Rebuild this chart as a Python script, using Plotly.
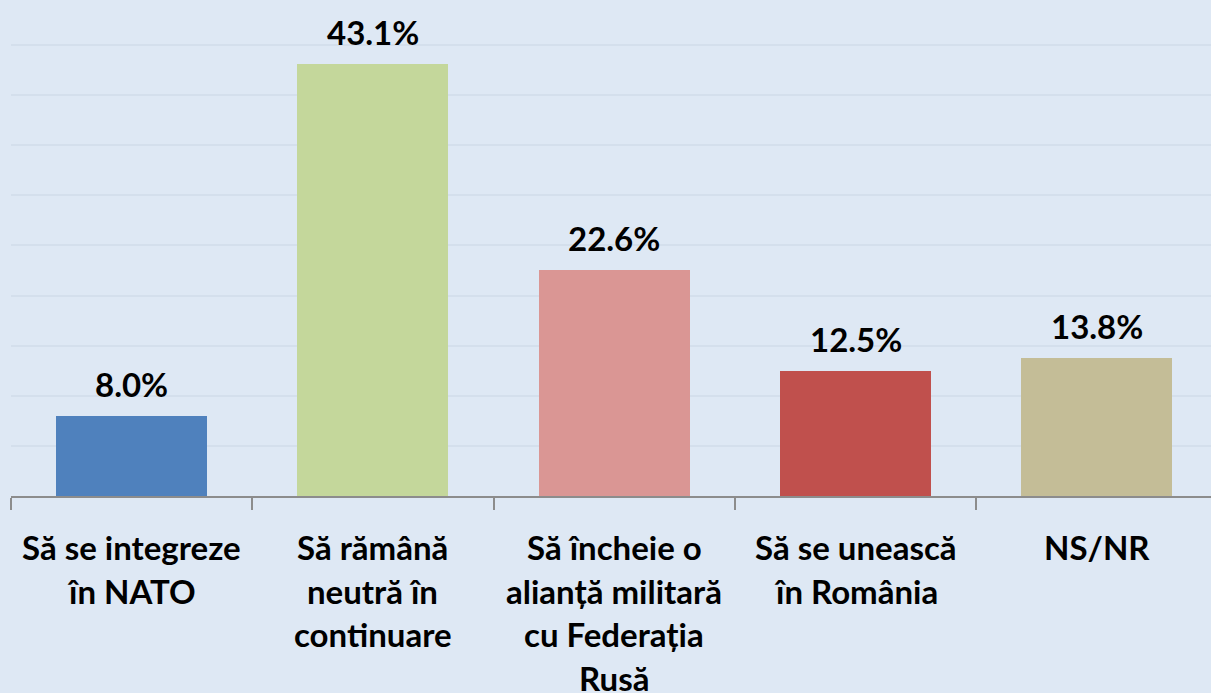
import plotly.graph_objects as go

categories = ["Să se integreze<br>în NATO", "Să rămână<br>neutră în<br>continuare",
              "Să încheie o<br>alianță militară<br>cu Federația<br>Rusă", "Să se unească<br>în România", "NS/NR"]
values = [8.0, 43.1, 22.6, 12.5, 13.8]
colors = ["#4F81BD", "#C4D79B", "#DA9694", "#C0504D", "#C4BD97"]
labels = [f"{v:.1f}%" for v in values]

FONT = "Lato"
FS = 33
fig = go.Figure(go.Bar(
    x=categories, y=values, marker=dict(color=colors, line=dict(width=0)),
    width=0.626, cliponaxis=False, hoverinfo="skip",
))

for c, v, t in zip(categories, values, labels):
    fig.add_annotation(x=c, y=v, xref="x", yref="y", text=t, showarrow=False,
                       yshift=32, yanchor="middle",
                       font=dict(family=FONT, size=FS, color="black", weight="bold"))
    for j, line in enumerate(c.split("<br>")):
        fig.add_annotation(x=c, y=0, xref="x", yref="y", text=line, showarrow=False,
                           yshift=-51 - 43.5 * j, yanchor="middle",
                           font=dict(family=FONT, size=FS, color="black", weight="bold"))

fig.update_layout(
    width=1211, height=693, margin=dict(l=11, r=0, t=0, b=197),
    paper_bgcolor="#DEE8F4", plot_bgcolor="#DEE8F4", showlegend=False, bargap=0,
    xaxis=dict(type="category", range=[-0.5, 4.473], showticklabels=False,
               showline=True, linecolor="#8C8C8C", linewidth=2, ticks="outside",
               tickson="boundaries", ticklen=12, tickcolor="#8C8C8C", tickwidth=2,
               showgrid=False, zeroline=False),
    yaxis=dict(range=[0, 49.5], dtick=5, showgrid=True, gridcolor="#D4DFEC", gridwidth=2,
               showticklabels=False, zeroline=False, showline=False),
)
fig.write_html("out.html", config={"displayModeBar": False},
               post_script="document.body.style.margin='0';document.body.style.background='#DEE8F4';")
